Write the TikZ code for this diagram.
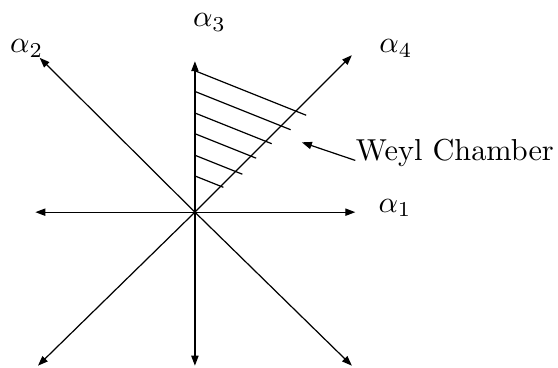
\documentclass[tikz,border=0pt]{standalone}
\usepackage{amsmath,amssymb}
\usepackage{tikz}
\usetikzlibrary{arrows.meta}

\begin{document}
\begin{tikzpicture}[
    root/.style={-{Triangle[length=3.3pt, width=2.4pt]}, line width=0.4pt},
    hatch/.style={line width=0.4pt},
    lbl/.style={inner sep=1pt}]
    \useasboundingbox (-2.26,-1.80) rectangle (4.21,2.46);
    \coordinate (O) at (0,0);
    % root vectors
    \coordinate (a1) at (1.86,0);
    \coordinate (m1) at (-1.85,0);
    \coordinate (a3) at (0,1.75);
    \coordinate (m3) at (0,-1.78);
    \coordinate (a2) at (-1.80,1.79);
    \coordinate (a4) at (1.82,1.82);
    \coordinate (m4) at (-1.82,-1.78);
    \coordinate (m2) at (1.82,-1.78);
    \draw[root] (O) -- (a1);
    \draw[root] (O) -- (m1);
    \draw[root] (O) -- (a3);
    \draw[root] (O) -- (m3);
    \draw[root] (O) -- (a2);
    \draw[root] (O) -- (a4);
    \draw[root] (O) -- (m4);
    \draw[root] (O) -- (m2);
    \node[lbl] (la1) at (2.32,0.05) {$\alpha_1$};
    \node[lbl] (la2) at (-1.95,1.90) {$\alpha_2$};
    \node[lbl] (la3) at (0.17,2.20) {$\alpha_3$};
    \node[lbl] (la4) at (2.33,1.90) {$\alpha_4$};
    % the chamber
    \foreach \y/\x in {0.42/0.33, 0.66/0.55, 0.91/0.71, 1.15/0.89, 1.40/1.11, 1.64/1.29}
      \draw[hatch] (0,\y) -- ++(\x,{-0.4*\x});
    \node[anchor=base west, inner sep=0pt] (wc) at (1.86,0.60) {Weyl Chamber};
    \coordinate (tip) at (1.24,0.81);
    \draw[root] (wc.base west) -- (tip);
\end{tikzpicture}
\end{document}
